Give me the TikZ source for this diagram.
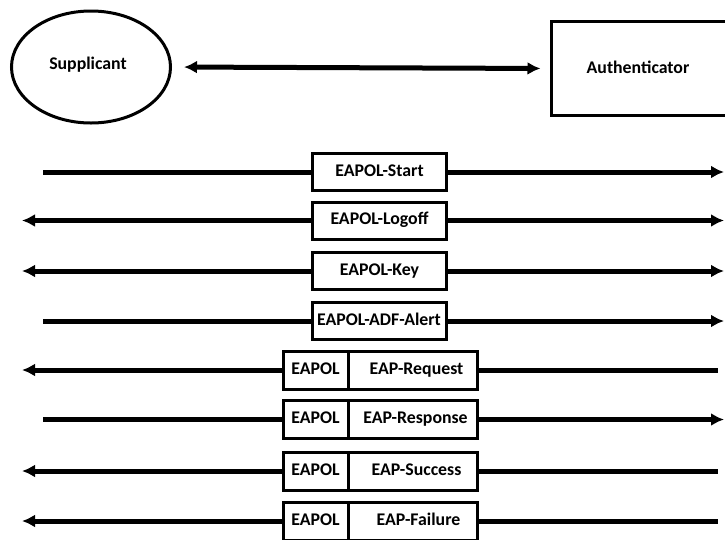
\documentclass[tikz,border=0pt]{standalone}
\usepackage{fontspec}
\setmainfont{Carlito}
\usetikzlibrary{arrows.meta,shapes.geometric}
\begin{document}
\begin{tikzpicture}[x=1pt,y=-1pt,
  lbl/.style={font=\bfseries\fontsize{17.8}{20}\selectfont},
  frame/.style={draw, line width=3pt, inner sep=0pt, lbl, text height=12pt, text depth=3.5pt},
  msg/.style={frame, minimum width=134pt, minimum height=37pt},
  hdr/.style={frame, minimum width=65pt, minimum height=38pt},
  body/.style={frame, minimum width=129pt, minimum height=38pt},
  wire/.style={line width=5pt},
  toL/.style={wire, {Latex[length=13pt,width=13pt]}-},
  toR/.style={wire, -{Latex[length=13pt,width=13pt]}}]
\useasboundingbox (0,0) rectangle (725,539);

% endpoints
\node[draw, ellipse, line width=3pt, minimum width=159pt, minimum height=112pt] (sup) at (91,67) {};
\node[lbl] (suptext) at (88,65) {Supplicant};
\node[draw, line width=3pt, minimum width=190pt, minimum height=94pt] (auth) at (646,68.5) {};
\node[lbl] (authtext) at (638,67) {Authenticator};
\draw[wire, {Latex[length=13pt,width=13pt]}-{Latex[length=13pt,width=13pt]}, shorten <=12pt, shorten >=9pt]
  (sup.east) -- (auth.west);

% EAPOL frames
\node[msg] (start)  at (379.5,172)   {EAPOL-Start};
\node[msg] (logoff) at (379.5,220.5) {EAPOL-Logoff};
\node[msg] (key)    at (379.5,271)   {EAPOL-Key};
\node[msg] (alert)  at (379,321)     {EAPOL-ADF-Alert};

% EAP frames carried in EAPOL
\node[hdr]  (h1) at (315.5,370)   {EAPOL};
\node[body] (b1) at (412.5,370)   {\hspace{8pt}EAP-Request};
\node[hdr]  (h2) at (315.5,419.5) {EAPOL};
\node[body] (b2) at (412.5,419.5) {\hspace{6pt}EAP-Response};
\node[hdr]  (h3) at (315.5,471)   {EAPOL};
\node[body] (b3) at (412.5,471)   {\hspace{8pt}EAP-Success};
\node[hdr]  (h4) at (315.5,521)   {EAPOL};
\node[body] (b4) at (412.5,521)   {\hspace{12pt}EAP-Failure};

% line ends
\coordinate (lp) at (43,0);
\coordinate (la) at (22,0);
\coordinate (rp) at (718,0);
\coordinate (ra) at (724,0);

% row 1
\draw[wire] (lp |- start) -- (start.west);
\draw[toR] (start.east) -- (ra |- start);
% row 2
\draw[toL] (la |- logoff) -- (logoff.west);
\draw[toR] (logoff.east) -- (ra |- logoff);
% row 3
\draw[toL] (la |- key) -- (key.west);
\draw[toR] (key.east) -- (ra |- key);
% row 4
\draw[wire] (lp |- alert) -- (alert.west);
\draw[toR] (alert.east) -- (ra |- alert);
% row 5
\draw[toL] (la |- h1) -- (h1.west);
\draw[wire] (b1.east) -- (rp |- b1);
% row 6
\draw[wire] (lp |- h2) -- (h2.west);
\draw[toR] (b2.east) -- (ra |- b2);
% row 7
\draw[toL] (la |- h3) -- (h3.west);
\draw[wire] (b3.east) -- (rp |- b3);
% row 8
\draw[toL] (la |- h4) -- (h4.west);
\draw[wire] (b4.east) -- (rp |- b4);
\end{tikzpicture}
\end{document}
